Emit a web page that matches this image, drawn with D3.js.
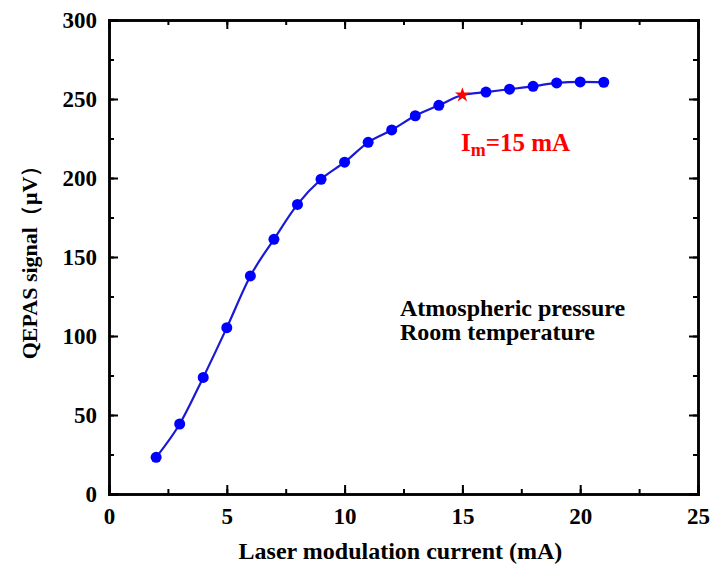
<!DOCTYPE html>
<html>
<head>
<meta charset="utf-8">
<script src="https://cdn.jsdelivr.net/npm/d3@7"></script>
<style>
  body { margin: 0; background: #fff; }
  text { font-family: "Liberation Serif", "Times New Roman", serif; font-weight: bold; }
</style>
</head>
<body>
<div id="chart"></div>
<script>
// laser modulation current (mA)
var current = [2, 3, 4, 5, 6, 7, 8, 9, 10, 11, 12, 13, 14, 15, 16, 17, 18, 19, 20, 21];
// QEPAS signal (uV)
var signal = [23.2, 44.3, 73.8, 105.3, 138, 161.2, 183.3, 199.2, 210, 222.6, 230.4, 239.4, 246, 252.5, 254.4, 256.2, 258, 260.2, 260.8, 260.6];
var bestCurrent = 15;
var xTicks = [0, 5, 10, 15, 20, 25];
var yTicks = [0, 50, 100, 150, 200, 250, 300];

var width = 712, height = 572;
var margin = {left: 109, right: 14, top: 20, bottom: 78};

var svg = d3.select("#chart").append("svg")
    .attr("width", width)
    .attr("height", height);

var x = d3.scaleLinear().domain([0, 25]).range([margin.left, width - margin.right]);
var y = d3.scaleLinear().domain([0, 300]).range([height - margin.bottom, margin.top]);

var minorX = d3.range(0, 25.01, 2.5);
var minorY = d3.range(0, 300.1, 25);

// axes: ticks point inward, mirrored on top and right
function drawAxes() {
  var g = svg.append("g").attr("class", "axes");
  g.append("g").attr("transform", "translate(0," + y(0) + ")")
    .call(d3.axisBottom(x).tickValues(minorX).tickSize(-5).tickFormat(""));
  g.append("g").attr("transform", "translate(0," + y(0) + ")")
    .call(d3.axisBottom(x).tickValues(xTicks).tickSize(-9).tickPadding(14).tickFormat(d3.format("d")));
  g.append("g").attr("transform", "translate(0," + y(300) + ")")
    .call(d3.axisTop(x).tickValues(minorX).tickSize(-5).tickFormat(""));
  g.append("g").attr("transform", "translate(0," + y(300) + ")")
    .call(d3.axisTop(x).tickValues(xTicks).tickSize(-9).tickFormat(""));
  g.append("g").attr("transform", "translate(" + x(0) + ",0)")
    .call(d3.axisLeft(y).tickValues(minorY).tickSize(-5).tickFormat(""));
  g.append("g").attr("transform", "translate(" + x(0) + ",0)")
    .call(d3.axisLeft(y).tickValues(yTicks).tickSize(-9).tickPadding(12).tickFormat(d3.format("d")));
  g.append("g").attr("transform", "translate(" + x(25) + ",0)")
    .call(d3.axisRight(y).tickValues(minorY).tickSize(-5).tickFormat(""));
  g.append("g").attr("transform", "translate(" + x(25) + ",0)")
    .call(d3.axisRight(y).tickValues(yTicks).tickSize(-9).tickFormat(""));

  g.selectAll(".domain").attr("stroke", "#000").attr("stroke-width", 2.5);
  g.selectAll(".tick line").attr("stroke", "#000").attr("stroke-width", 2);
  g.selectAll(".tick text")
    .attr("fill", "#000")
    .style("font-size", "23px")
    .style("font-family", "'Liberation Serif', serif")
    .style("font-weight", "bold");
}
drawAxes();

var pts = current.map(function(c, i) { return {x: c, y: signal[i]}; });

var line = d3.line()
    .x(function(d) { return x(d.x); })
    .y(function(d) { return y(d.y); })
    .curve(d3.curveMonotoneX);

svg.append("path")
    .datum(pts)
    .attr("d", line)
    .attr("fill", "none")
    .attr("stroke", "#1a1ad6")
    .attr("stroke-width", 2.2);

svg.append("g").selectAll("circle")
    .data(pts.filter(function(d) { return d.x != bestCurrent; }))
    .enter().append("circle")
    .attr("cx", function(d) { return x(d.x); })
    .attr("cy", function(d) { return y(d.y); })
    .attr("r", 5.5)
    .attr("fill", "#0000ff");

var star = pts.filter(function(d) { return d.x == bestCurrent; });
svg.append("g").selectAll("path")
    .data(star)
    .enter().append("path")
    .attr("d", d3.symbol().type(d3.symbolStar).size(70))
    .attr("transform", function(d) { return "translate(" + x(d.x) + "," + y(d.y) + ")"; })
    .attr("fill", "#ff0000");

// annotation
var ann = svg.append("text")
    .attr("x", 461)
    .attr("y", 151)
    .attr("fill", "#ff0000")
    .style("font-size", "25px");
ann.append("tspan").text("I");
ann.append("tspan").attr("dy", 5).style("font-size", "18px").text("m");
ann.append("tspan").attr("dy", -5).text("=15 mA");

svg.append("text").attr("x", 400).attr("y", 316).style("font-size", "24px").text("Atmospheric pressure");
svg.append("text").attr("x", 400).attr("y", 340).style("font-size", "24px").text("Room temperature");

// axis titles
svg.append("text")
    .attr("x", (x(0) + x(25)) / 2 - 3)
    .attr("y", 559)
    .attr("text-anchor", "middle")
    .style("font-size", "24px")
    .text("Laser modulation current (mA)");

svg.append("text")
    .attr("transform", "translate(37," + (y(150)) + ") rotate(-90)")
    .attr("text-anchor", "middle")
    .style("font-size", "22px")
    .text("QEPAS signal（μV）");
</script>
</body>
</html>
